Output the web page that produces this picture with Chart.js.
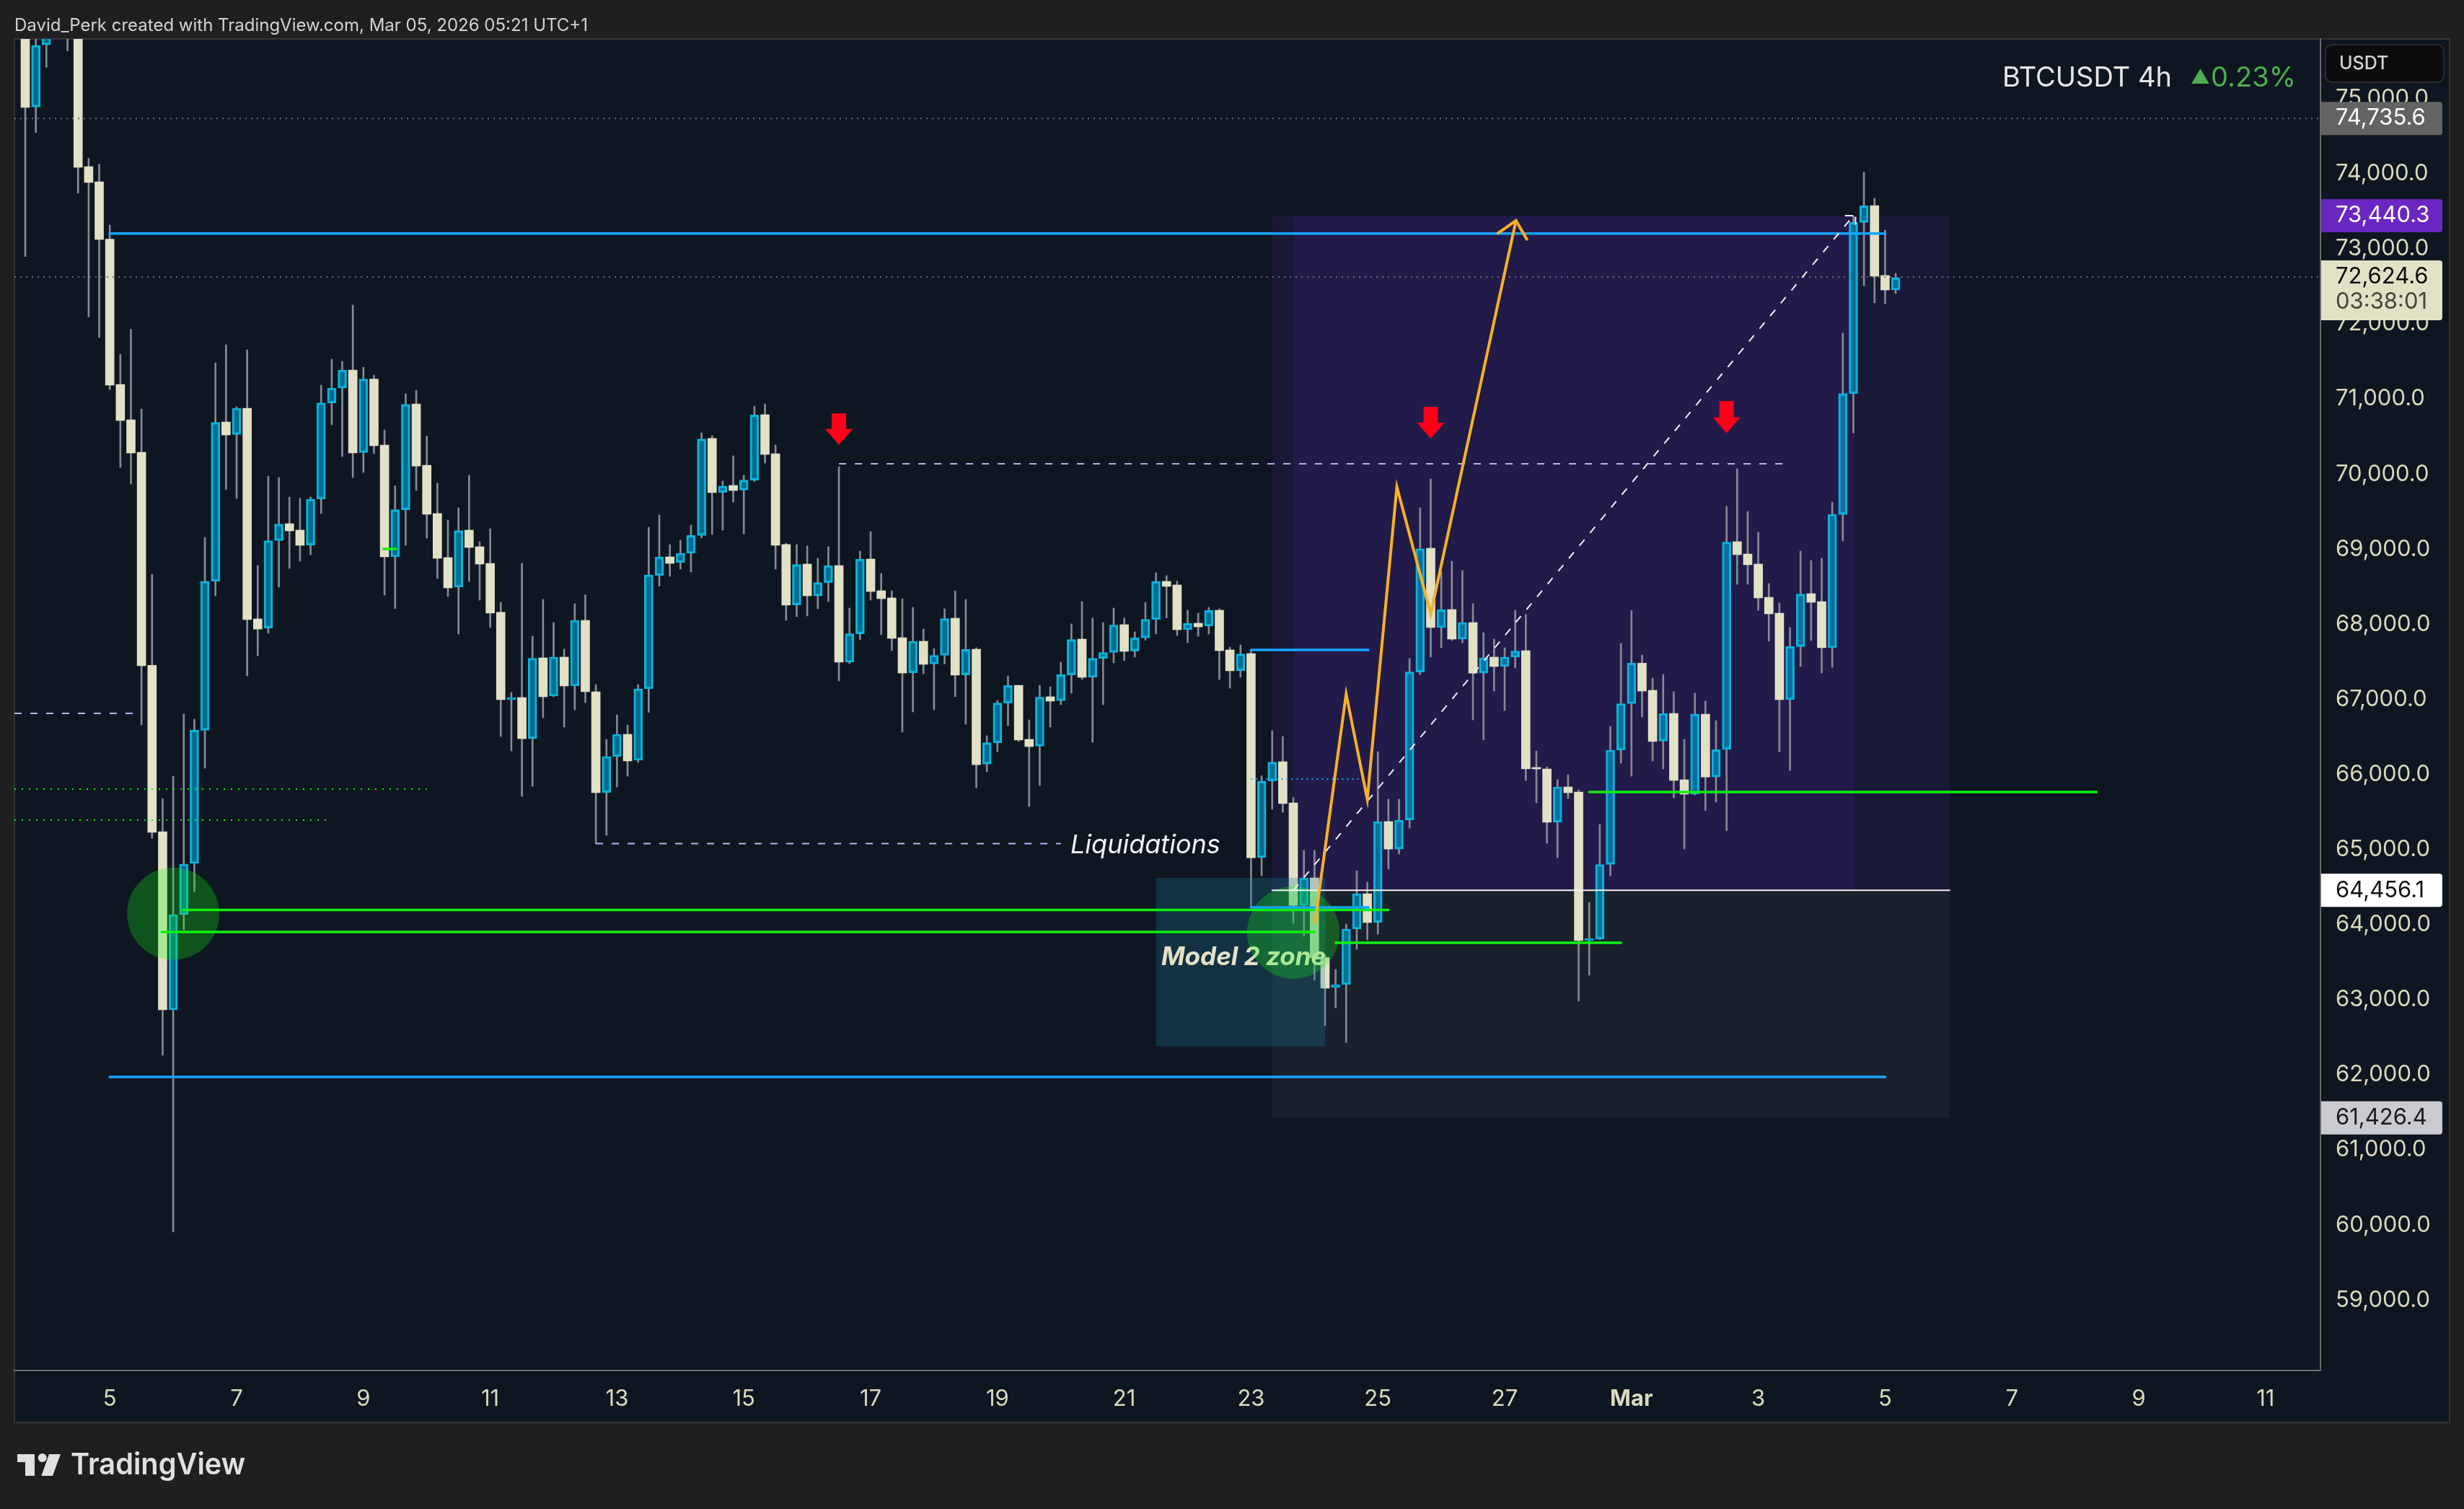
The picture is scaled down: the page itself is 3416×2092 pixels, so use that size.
<!DOCTYPE html>
<html><head><meta charset="utf-8">
<style>html,body{margin:0;padding:0;background:#1f1f1f}canvas{display:block}</style>
<script src="https://cdn.jsdelivr.net/npm/chart.js@4"></script>
</head><body><canvas id="c" width="3416" height="2092"></canvas>
<script>
const opens=[76400,74886,75715,75900,76300,76100,74094,73892,73128,71193,
70722,70290,67453,65237,62865,64133,64815,66588,68573,70693,
70525,70876,68071,67946,69113,69339,69253,69055,69666,70946,
71145,71385,70285,71265,70386,68897,69525,70933,70117,69474,
68888,68494,69253,69032,68811,68158,66995,67024,66476,67552,
67043,67562,67178,68052,67101,65759,66239,66534,66188,67139,
68650,68897,68820,68945,69182,70473,69756,69848,69786,69919,
70790,70271,69061,68255,68801,68378,68555,68782,67495,67873,
68868,68446,68350,67821,67354,67773,67471,67586,68081,67325,
67668,66136,66423,66951,67187,66467,66377,67034,66982,67325,
67802,67293,67547,67624,67994,67642,67818,68064,68571,68523,
67927,68013,67975,68186,67658,67380,67610,64893,65912,66169,
65621,64257,64622,63561,63163,63201,63941,64411,64027,65372,
65006,65393,67364,69012,67956,68196,67802,68023,67350,67562,
67437,67562,67648,66093,66073,65362,65833,65766,63787,63806,
64800,66323,66942,67481,67120,66443,66813,65929,65737,66803,
65967,66332,69099,68935,68801,68359,68148,66995,67702,68407,
68302,67687,69460,71071,73351,73575,72644,72451];
const closes=[74882,75710,75900,76300,76100,74084,73883,73124,71183,70713,
70280,67448,65228,62865,64133,64805,66588,68573,70687,70520,
70876,68062,67936,69113,69334,69243,69051,69666,70946,71145,
71385,70280,71265,70376,68897,69525,70927,70107,69464,68878,
68484,69246,69022,68801,68148,66995,67014,66476,67547,67034,
67562,67178,68052,67101,65756,66239,66534,66179,67139,68657,
68897,68811,68945,69182,70468,69752,69841,69781,69919,70786,
70261,69051,68254,68795,68378,68555,68782,67495,67873,68865,
68436,68340,67812,67350,67773,67466,67586,68075,67322,67664,
66130,66423,66951,67183,66457,66371,67029,66976,67328,67796,
67293,67547,67624,67989,67639,67818,68066,68571,68504,67927,
68013,67965,68182,67648,67380,67604,64891,65912,66163,65612,
64257,64622,63557,63153,63201,63941,64411,64027,65372,65006,
65391,67364,69005,67956,68192,67802,68023,67350,67552,67437,
67562,67643,66073,66073,65362,65833,65756,63787,63806,64800,
66323,66942,67481,67110,66438,66813,65919,65737,66803,65967,
66332,69094,68926,68792,68350,68138,66995,67702,68402,68292,
67687,69464,71071,73351,73571,72634,72451,72615];
const highs=[76500,76000,76100,76400,76800,76300,74205,74127,73316,71596,
71927,70866,68666,65679,65977,66803,66736,69156,71481,71721,
70895,71654,68782,69973,69954,69694,69675,69694,71183,71529,
71500,72250,71423,71318,70588,69843,71068,71116,70505,69877,
69387,69550,69983,69099,69272,68292,67091,68811,67841,68331,
68023,67668,68273,68392,67197,66467,66793,66659,67197,69291,
69454,69061,69118,69320,70549,70511,69906,70242,69983,70905,
70934,70386,69080,69061,69042,68878,69032,70098,68215,68974,
69233,68676,68446,68340,68225,67936,67677,68206,68446,68330,
67687,66515,66985,67312,67187,66726,67187,67168,67495,68004,
68302,68081,68023,68215,68081,67898,68292,68686,68648,68574,
68186,68148,68225,68206,67696,67725,67653,65982,66582,66505,
65692,64988,64988,63600,63403,64008,64718,64565,66303,65670,
65670,67543,69550,69935,68705,68839,68715,68273,67888,67802,
67687,68186,68129,66313,66102,65929,65996,65795,64296,65333,
66640,67744,68182,67590,67283,67331,67101,66467,67082,66976,
66717,69569,70069,69502,69224,68542,68282,67956,68974,68849,
68878,69627,71875,73440,74017,73671,73249,72672];
const lows=[72897,74548,75416,75850,75637,73739,72093,71817,71126,70088,
69867,66659,65150,62260,59906,63931,64440,66083,68378,69794,
69675,67312,67581,67879,68494,68743,68839,68926,69473,70655,
70232,69954,70021,70271,68388,68209,69051,69781,69147,68609,
68369,67869,68570,68321,67956,66505,66313,65708,65842,66755,
67034,66630,66860,66957,65078,65189,65833,65977,66159,66827,
68508,68638,68734,68695,69150,69195,69252,69627,69205,69900,
70146,68734,68052,68100,68110,68206,68302,67245,67476,67796,
68321,67860,67648,66563,66832,67341,66861,67471,67034,66669,
65823,66034,66303,66649,66438,65573,65852,66630,66928,67081,
67264,66428,66928,67485,67514,67562,67788,67873,68084,67850,
67754,67840,67869,67264,67149,67293,64248,64651,65535,65496,
64017,63844,63259,62653,62893,62432,63671,63796,63873,64738,
64939,65285,67330,67562,67687,67783,67754,66726,66462,67110,
66851,67418,65919,65621,65083,64891,65679,62980,63326,63800,
64651,66150,65977,66764,66179,66073,65689,65006,65727,65521,
65631,65252,68532,68532,68186,67773,66303,66054,67437,67783,
67351,67427,69108,70549,72509,72279,72269,72403];
const xTickIndex=[8,20,32,44,56,68,80,92,104,116,128,140,152,164,176,188,200,212];
const xTickLabels=['5','7','9','11','13','15','17','19','21','23','25','27','Mar','3','5','7','9','11'];
const yTickValues=[59000,60000,61000,62000,63000,64000,65000,66000,67000,68000,69000,70000,71000,72000,73000,74000,75000];
const lastPrice=72624.6, prevHigh=74735.6, tradeHigh=73440.3, tradeEntry=64456.1, tradeLow=61426.4;
const blueHigh=73203, blueLow=61971, blueShortA=67658, blueShortB=64228, blueDot=65938;
const greenA=64195, greenB=63902, greenC=63758, greenD=65766, greenDotA=65804, greenDotB=65391, greenTick=69003;
const liqHigh=70136, liqLow=65078, liqLeft=66813;
const zigzag=[[122.05,64027],[125,67072],[127,65670],[129.8,69829],[133,68138],[141.07,73374]];
const zigzagHead=[[139.36,73207],[141.07,73374],[142.1,73127]];
const diagonal=[[120,tradeEntry],[173,tradeHigh]];
const diagonalHead=[[172.2,tradeHigh],[173.2,tradeHigh],[173.2,73300]];
const circles=[[14,64145],[120,63894]];
const redArrows=[[77,70600],[133,70684],[161,70756]];
const xMin=-1.024, xMax=217.2, yMin=58062, yMax=75794;

const UP_F='rgba(0,165,210,.6)',UP_B='#08B4DC',DN='#E2E1C6',WICK='#858A96';
const FONT='Inter, "Noto Sans", sans-serif';
const wickLowData=opens.map((o,i)=>({x:i,y:[lows[i],Math.min(o,closes[i])]}));
const wickHighData=opens.map((o,i)=>({x:i,y:[Math.max(o,closes[i]),highs[i]]}));
const upData=[],dnData=[];
opens.forEach((o,i)=>{(closes[i]>=o?upData:dnData).push({x:i,y:[o,closes[i]]});});

function line(pts,color,width,dash,order,label){return{type:'line',label:label||'',data:pts.map(p=>({x:p[0],y:p[1]})),borderColor:color,borderWidth:width,borderDash:dash||[],pointRadius:0,tension:0,fill:false,order:order||20,borderCapStyle:dash?'butt':'round',borderJoinStyle:'miter'};}
const arrowImg=(()=>{const c=document.createElement('canvas');c.width=38;c.height=44;const g=c.getContext('2d');g.fillStyle='#FF0018';g.beginPath();g.moveTo(9,0);g.lineTo(29,0);g.lineTo(29,22);g.lineTo(38,22);g.lineTo(19,44);g.lineTo(0,22);g.lineTo(9,22);g.closePath();g.fill();return c;})();

const datasets=[
 {type:'bar',label:'wickLow',data:wickLowData,backgroundColor:WICK,barThickness:2,grouped:false,order:100},
 {type:'bar',label:'wickHigh',data:wickHighData,backgroundColor:WICK,barThickness:2,grouped:false,order:100},
 {type:'bar',label:'down',data:dnData,backgroundColor:DN,barThickness:12,grouped:false,order:90,minBarLength:2},
 {type:'bar',label:'up',data:upData,backgroundColor:UP_F,borderColor:UP_B,borderWidth:2.5,borderSkipped:false,barThickness:12,grouped:false,order:90,minBarLength:3},
 {type:'bubble',label:'circles',data:circles.map(c=>({x:c[0],y:c[1],r:64})),backgroundColor:'rgba(20,250,20,.27)',borderWidth:0,order:50},
 line([[xMin,prevHigh],[xMax,prevHigh]],'#6E6E6E',2,[2,6],40),
 line([[xMin,lastPrice],[xMax,lastPrice]],'#6E6E6E',2,[2,6],40),
 line([[8,blueHigh],[176,blueHigh]],'#14A5FF',3.5,null,20),
 line([[8,blueLow],[176,blueLow]],'#14A5FF',3.5,null,20),
 line([[116,blueShortA],[127.1,blueShortA]],'#14A5FF',3.5,null,20),
 line([[116,blueShortB],[127.1,blueShortB]],'#14A5FF',3.5,null,20),
 line([[116,blueDot],[126.5,blueDot]],'#14A5FF',2,[2,5],20),
 line([[14.9,greenA],[129,greenA]],'#10F010',3.5,null,21),
 line([[12.9,greenB],[122,greenB]],'#10F010',3.5,null,21),
 line([[124,greenC],[151,greenC]],'#10F010',3.5,null,21),
 line([[148,greenD],[196,greenD]],'#10F010',3.5,null,21),
 line([[33.9,greenTick],[35.1,greenTick]],'#10F010',3.5,null,21),
 line([[xMin,greenDotA],[38,greenDotA]],'#10F010',2,[2,8],22),
 line([[xMin,greenDotB],[29,greenDotB]],'#10F010',2,[2,8],22),
 line([[118,tradeEntry],[182.1,tradeEntry]],'#F4F4F4',2,null,23),
 line([[77,liqHigh],[166.4,liqHigh]],'#B9B5F2',2,[10,12],24),
 line([[54,liqLow],[98,liqLow]],'#B9B5F2',2,[10,12],24),
 line([[xMin,liqLeft],[10.9,liqLeft]],'#B9B5F2',2,[10,12],24),
 line(diagonal,'#F0F0F0',2,[11,12],15),
 line(diagonalHead,'#F0F0F0',2,[11,5],15),
 line(zigzag,'#F7B126',4,null,10),
 line(zigzagHead,'#F7B126',4,null,10),
 {type:'scatter',label:'arrows',data:redArrows.map(a=>({x:a[0],y:a[1]})),pointStyle:arrowImg,pointRadius:20,showLine:false,order:5}
];

function roundRect(g,x,y,w,h,r){g.beginPath();g.roundRect(x,y,w,h,r);}
const overlay={id:'overlay',
 beforeDraw(ch){const g=ch.ctx;g.save();
  g.fillStyle='#1F1F1F';g.fillRect(0,0,3416,2092);
  g.fillStyle='#0E1621';g.fillRect(20,54,3376,1918);
  g.strokeStyle='#333536';g.lineWidth=2;g.strokeRect(20,54,3376,1918);
  g.fillStyle='#D2D2D2';g.font='24px '+FONT;g.textBaseline='middle';g.textAlign='left';
  g.fillText('David_Perk created with TradingView.com, Mar 05, 2026 05:21 UTC+1',20,36);
  // logo
  g.fillStyle='#E0E0E0';
  g.beginPath();g.moveTo(24,2016);g.lineTo(48,2016);g.lineTo(48,2046);g.lineTo(35,2046);g.lineTo(35,2027);g.lineTo(24,2027);g.closePath();g.fill();
  g.beginPath();g.arc(58.7,2021,6,0,7);g.fill();
  g.beginPath();g.moveTo(68,2016);g.lineTo(84,2016);g.lineTo(73,2046);g.lineTo(57.4,2046);g.closePath();g.fill();
  g.font='600 41px '+FONT;g.fillText('TradingView',98,2032,242);
  g.restore();},
 beforeDatasetsDraw(ch){const g=ch.ctx,x=ch.scales.x,y=ch.scales.y;g.save();
  const rect=(a,b,p,q,c)=>{g.fillStyle=c;const X=x.getPixelForValue(a),X2=x.getPixelForValue(b),Y=y.getPixelForValue(p),Y2=y.getPixelForValue(q);g.fillRect(X,Y,X2-X,Y2-Y);};
  rect(118,182.1,tradeHigh,tradeEntry,'rgba(100,50,200,.13)');
  rect(120,173.1,tradeHigh,tradeEntry,'rgba(100,50,200,.13)');
  rect(118,182.1,tradeEntry,tradeLow,'rgba(200,220,240,.06)');
  g.restore();},
 beforeDatasetDraw(ch,args){const ds=ch.data.datasets[args.index];if(ds.label!=='circles')return;
  const g=ch.ctx,x=ch.scales.x,y=ch.scales.y;g.save();
  const X=x.getPixelForValue(107),X2=x.getPixelForValue(123),Y=y.getPixelForValue(64623),Y2=y.getPixelForValue(62380);
  g.fillStyle='rgba(30,125,155,.27)';g.fillRect(X,Y,X2-X,Y2-Y);
  g.fillStyle='#E2E1C6';g.font='italic 700 35px '+FONT;g.textBaseline='middle';g.textAlign='left';
  g.fillText('Model 2 zone',1610,1327);
  g.fillStyle='#F4F4F4';g.font='italic 400 36px '+FONT;g.fillText('Liquidations',1484,1172);
  g.restore();},
 afterDraw(ch){const g=ch.ctx,y=ch.scales.y;g.save();g.textBaseline='middle';
  const F=31;
  const badge=(v,bg,fg,h)=>{const c=y.getPixelForValue(v);g.fillStyle=bg;roundRect(g,3218,c-23,168,46,[0,4,4,0]);g.fill();g.fillStyle=fg;g.font=F+'px '+FONT;g.textAlign='left';g.fillText(v.toLocaleString('en-US',{minimumFractionDigits:1,maximumFractionDigits:1}),3238,c);};
  badge(prevHigh,'#636363','#FFFFFF');
  badge(tradeHigh,'#6A26C0','#FFFFFF');
  badge(tradeEntry,'#FFFFFF','#111111');
  badge(tradeLow,'#C9CBD1','#1A1A1A');
  const c=y.getPixelForValue(lastPrice);
  g.fillStyle='#E2E1C6';roundRect(g,3218,361,168,83,[0,4,4,0]);g.fill();
  g.fillStyle='#0A0A0A';g.font=F+'px '+FONT;g.textAlign='left';g.fillText(lastPrice.toLocaleString('en-US',{minimumFractionDigits:1}),3238,c);
  g.fillStyle='#45453C';g.fillText('03:38:01',3238,419);
  // USDT
  g.fillStyle='#0D0D0D';roundRect(g,3224,62,164,52,9);g.fill();g.strokeStyle='#353535';g.lineWidth=1.5;g.stroke();
  g.fillStyle='#D4D4D4';g.font='500 25px '+FONT;g.fillText('USDT',3243,88);
  // title
  g.font='38px '+FONT;g.textAlign='right';g.fillStyle='#4CAF50';g.fillText('0.23%',3183,109);
  const w=g.measureText('0.23%').width;
  g.font='27px '+FONT;g.fillText('\u25B2',3183-w-1,108);
  g.font='38px '+FONT;g.fillStyle='#E6E6E6';g.fillText('BTCUSDT 4h',3011,109);
  g.restore();}
};
new Chart(document.getElementById('c'),{
 type:'bar',
 data:{datasets},
 plugins:[overlay],
 options:{responsive:false,animation:false,devicePixelRatio:1,events:[],
  layout:{autoPadding:false,padding:{left:20,top:54,right:20,bottom:120}},
  plugins:{legend:{display:false},tooltip:{enabled:false},title:{display:false}},
  scales:{
   x:{type:'linear',position:'bottom',offset:false,min:xMin,max:xMax,grid:{display:false,drawTicks:false},border:{display:true,color:'#6B6B6B',width:2},
    afterFit(s){s.height=72;s.paddingLeft=s.paddingRight=0;},
    afterBuildTicks(s){s.ticks=xTickIndex.map(v=>({value:v}));},
    ticks:{autoSkip:false,maxRotation:0,minRotation:0,padding:21,color:'#DADABF',font:c=>({family:FONT,size:31,weight:c.tick&&c.tick.value===152?'700':'400'}),callback:v=>xTickLabels[xTickIndex.indexOf(v)]}},
   y:{type:'linear',position:'right',min:yMin,max:yMax,grid:{display:false,drawTicks:false},border:{display:true,color:'#6B6B6B',width:2},
    afterFit(s){s.width=179;s.paddingTop=s.paddingBottom=0;},
    afterBuildTicks(s){s.ticks=yTickValues.map(v=>({value:v}));},
    ticks:{autoSkip:false,padding:21,color:'#DADABF',font:{family:FONT,size:31},callback:v=>v.toLocaleString('en-US',{minimumFractionDigits:1})}}
  }
 }
});
</script></body></html>
